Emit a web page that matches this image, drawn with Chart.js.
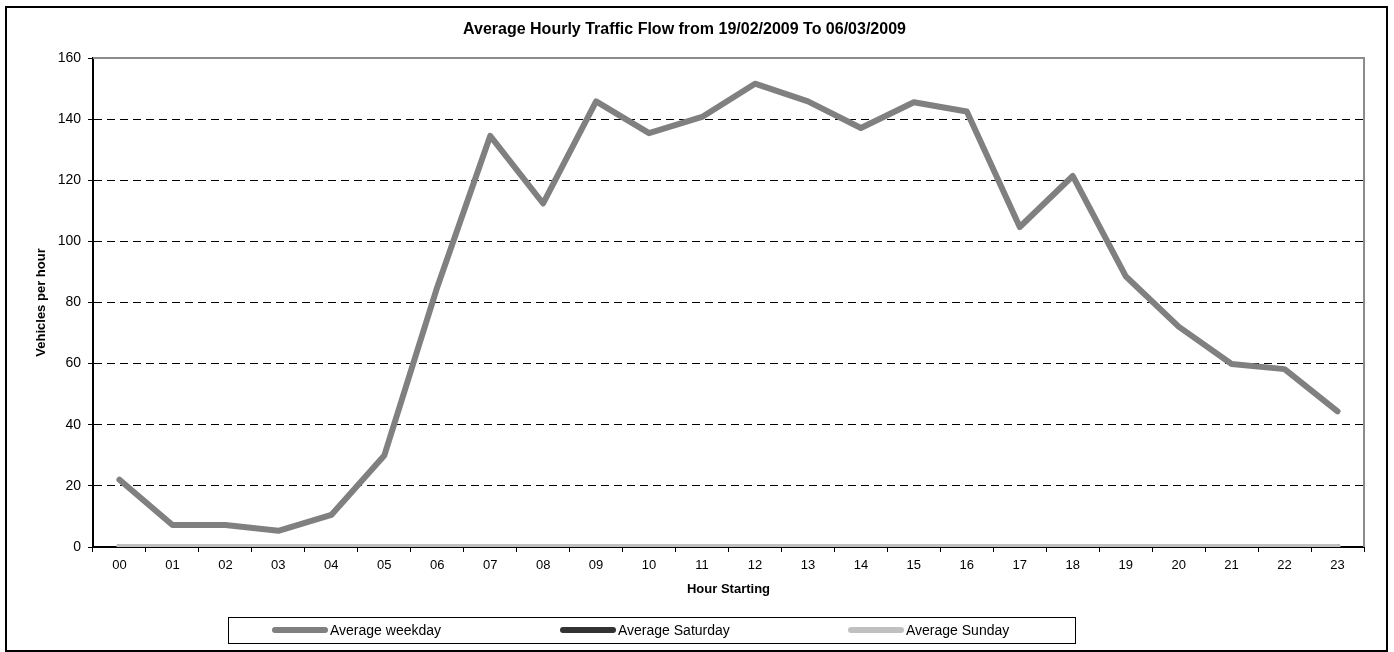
<!DOCTYPE html>
<html>
<head>
<meta charset="utf-8">
<title>Average Hourly Traffic Flow</title>
<script src="https://cdn.jsdelivr.net/npm/chart.js"></script>
<style>
  html, body { margin: 0; padding: 0; background: #fff; }
  #wrap { width: 1394px; height: 652px; }
</style>
</head>
<body>
<div id="wrap"><canvas id="traffic" width="1394" height="652"></canvas></div>
<script>
const hours = ['00', '01', '02', '03', '04', '05', '06', '07', '08', '09', '10', '11',
               '12', '13', '14', '15', '16', '17', '18', '19', '20', '21', '22', '23'];
const weekday = [22, 7.2, 7.2, 5.3, 10.5, 29.9, 85, 134.5, 112.4, 145.8, 135.4, 140.7,
                 151.6, 145.8, 137.1, 145.5, 142.5, 104.7, 121.4, 88.6, 72.1, 59.9, 58.2, 44.4];
const saturday = [0, 0, 0, 0, 0, 0, 0, 0, 0, 0, 0, 0, 0, 0, 0, 0, 0, 0, 0, 0, 0, 0, 0, 0];
const sunday = [0, 0, 0, 0, 0, 0, 0, 0, 0, 0, 0, 0, 0, 0, 0, 0, 0, 0, 0, 0, 0, 0, 0, 0];
const seriesNames = ['Average weekday', 'Average Saturday', 'Average Sunday'];
const yTicks = [0, 20, 40, 60, 80, 100, 120, 140, 160];

const FONT = '"Liberation Sans", Arial, sans-serif';
Chart.defaults.font.family = FONT;
Chart.defaults.color = '#000';

// frame round the plot (grey top/right) and the outer border
const framePlugin = {
  id: 'frame',
  beforeDatasetsDraw(chart) {
    const { ctx, chartArea: a } = chart;
    ctx.save();
    ctx.strokeStyle = '#8c8c8c';
    ctx.lineWidth = 2;
    ctx.beginPath();
    ctx.moveTo(a.left, a.top);
    ctx.lineTo(a.right, a.top);
    ctx.lineTo(a.right, a.bottom);
    ctx.stroke();
    ctx.restore();
  },
  afterDraw(chart) {
    const ctx = chart.ctx;
    ctx.save();
    ctx.strokeStyle = '#000';
    ctx.lineWidth = 2;
    ctx.strokeRect(6, 7, 1381, 644);
    ctx.restore();
  }
};

// boxed legend under the axis, like the Excel one
const boxLegend = {
  id: 'boxLegend',
  afterDraw(chart) {
    const ctx = chart.ctx;
    const box = { left: 228, top: 617, width: 847, height: 26 };
    const cy = box.top + box.height / 2;
    ctx.save();
    ctx.strokeStyle = '#000';
    ctx.lineWidth = 1;
    ctx.strokeRect(box.left + 0.5, box.top + 0.5, box.width, box.height);
    ctx.font = '14px ' + FONT;
    ctx.textBaseline = 'middle';
    ctx.fillStyle = '#000';
    chart.data.datasets.forEach((ds, i) => {
      const x0 = box.left + 47 + i * 288;
      ctx.strokeStyle = ds.borderColor;
      ctx.lineWidth = 6;
      ctx.lineCap = 'round';
      ctx.beginPath();
      ctx.moveTo(x0, cy);
      ctx.lineTo(x0 + 50, cy);
      ctx.stroke();
      ctx.fillText(ds.label, x0 + 55, cy + 1);
    });
    ctx.restore();
  }
};

const line = (label, data, color, extra) => Object.assign({
  label: label,
  data: data,
  borderColor: color,
  backgroundColor: color,
  borderWidth: 6,
  pointRadius: 0,
  tension: 0,
  borderCapStyle: 'round',
  borderJoinStyle: 'round',
  fill: false
}, extra || {});

new Chart(document.getElementById('traffic'), {
  type: 'line',
  data: {
    labels: hours,
    datasets: [
      line(seriesNames[0], weekday, '#808080', { order: 0 }),
      line(seriesNames[1], saturday, '#333333', { order: 2, clip: { left: 10, right: 10, top: 0, bottom: 0 } }),
      line(seriesNames[2], sunday, '#c0c0c0', { order: 1, clip: { left: 10, right: 10, top: 0, bottom: 0 } })
    ]
  },
  plugins: [framePlugin, boxLegend],
  options: {
    responsive: false,
    animation: false,
    layout: { padding: { left: 5, right: 30, top: 0, bottom: 50 } },
    plugins: {
      legend: { display: false },
      tooltip: { enabled: false },
      title: {
        display: true,
        text: 'Average Hourly Traffic Flow from 19/02/2009 To 06/03/2009',
        font: { size: 16, weight: 'bold' },
        color: '#000',
        padding: { top: 20, bottom: 18.8 }
      }
    },
    scales: {
      x: {
        offset: true,
        afterFit: s => { s.height = 55; },
        grid: { drawOnChartArea: false, offset: true, tickLength: 5, color: '#000' },
        border: { color: '#000', width: 2 },
        ticks: { font: { size: 13 }, padding: 6, maxRotation: 0, autoSkip: false },
        title: {
          display: true, text: 'Hour Starting',
          font: { size: 13, weight: 'bold' },
          padding: { top: 0, bottom: 5 }
        }
      },
      y: {
        min: 0,
        max: 160,
        afterFit: s => { s.width = 88; },
        afterBuildTicks: s => { s.ticks = yTicks.map(v => ({ value: v })); },
        grid: {
          color: c => (c.tick && (c.tick.value === 0 || c.tick.value === 160)) ? 'rgba(0,0,0,0)' : '#000',
          tickColor: '#000',
          tickLength: 5,
          lineWidth: 1
        },
        border: { color: '#000', width: 2, dash: [8, 5] },
        ticks: { font: { size: 14 }, padding: 7 },
        title: {
          display: true, text: 'Vehicles per hour',
          font: { size: 13, weight: 'bold' },
          padding: { top: 29, bottom: 0 }
        }
      }
    }
  }
});
</script>
</body>
</html>
